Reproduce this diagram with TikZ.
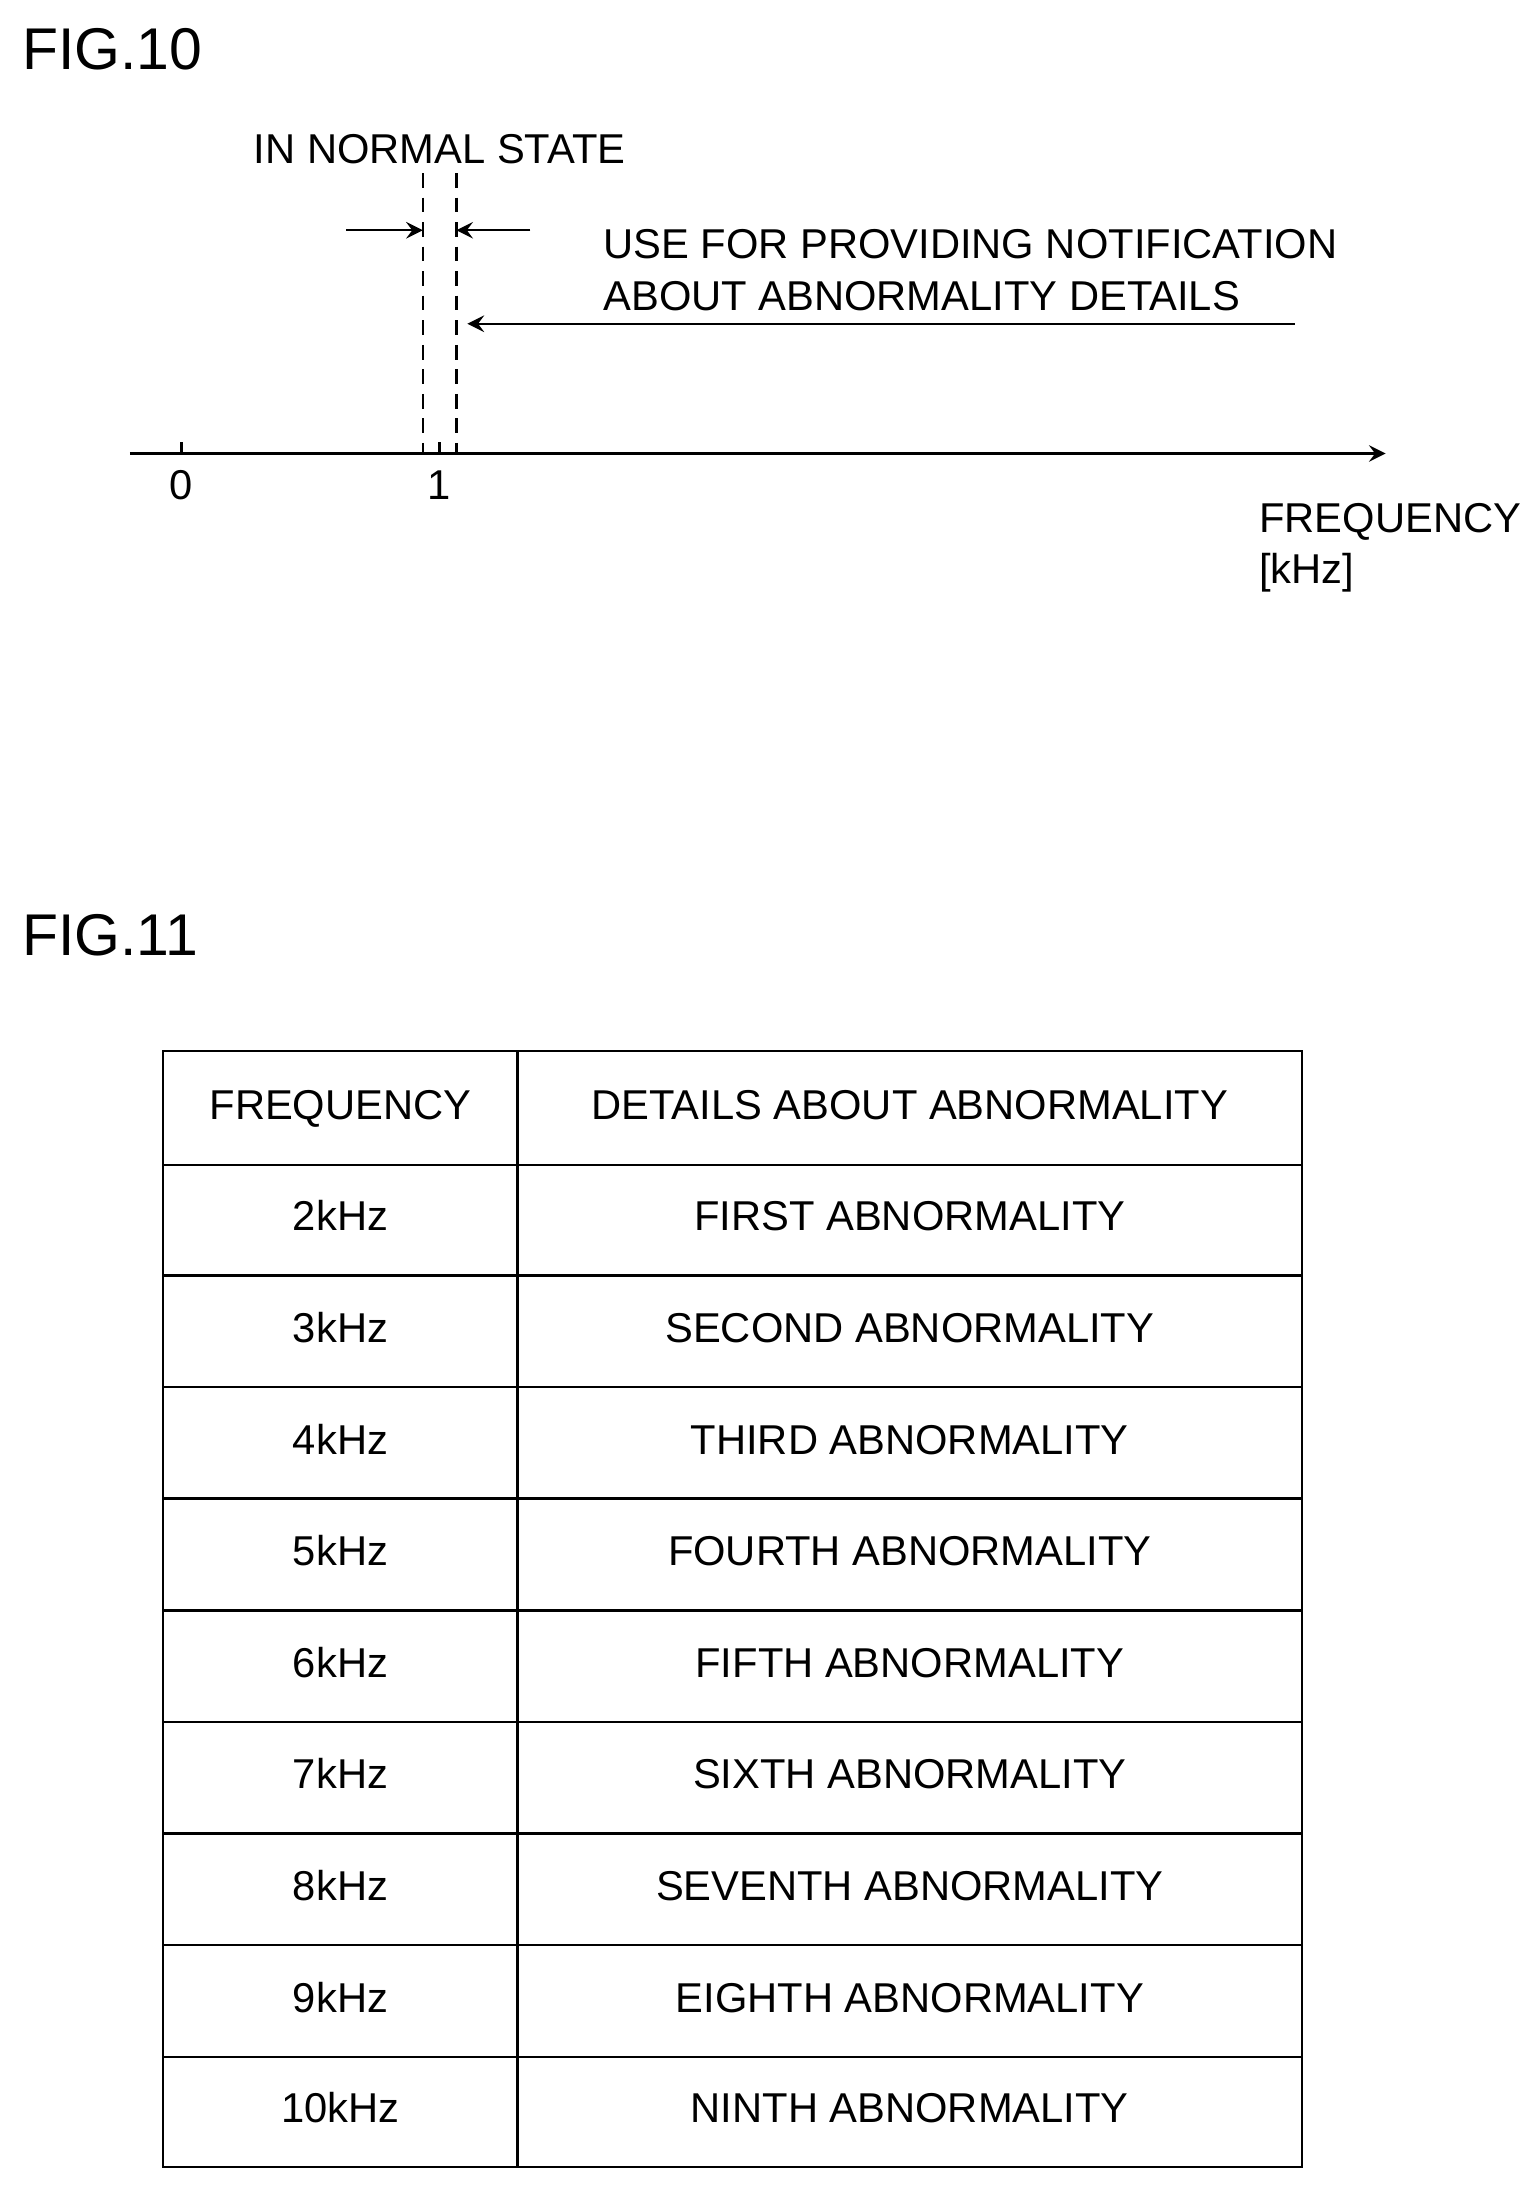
\documentclass[tikz,border=0pt]{standalone}
\usepackage{fontspec}
\setmainfont{Liberation Sans}
\usetikzlibrary{positioning}

\begin{document}
\begin{tikzpicture}[
  x=0.01cm, y=-0.01cm,
  every path/.style={line width=0.5pt},
  lbl/.style={font=\fontsize{8.5}{10.5}\selectfont, inner sep=1pt},
  cell/.style={lbl, text height=2.2mm, text depth=0.6mm},
  fig/.style={font=\fontsize{12}{14}\selectfont, anchor=west, inner sep=0},
  guide/.style={densely dashed},
  ar/.style={->,>=stealth}
  ]
  \useasboundingbox (0,0) rectangle (1100,1568);
  % FIG.10
  \node[fig] (f10) at (15,35) {FIG.10};
  \node[lbl] (normal) at (315,107) {IN NORMAL STATE};
  \coordinate (la) at (303,124);  \coordinate (lb) at (303,325);
  \coordinate (ra) at (327,124);  \coordinate (rb) at (327,325);
  \draw[guide] (la) -- (lb);
  \draw[guide] (ra) -- (rb);
  \coordinate (lin) at (248,165); \coordinate (lt) at (303,165);
  \coordinate (rin) at (380,165); \coordinate (rt) at (327,165);
  \draw[ar] (lin) -- (lt);
  \draw[ar] (rin) -- (rt);
  \node[lbl, align=left, anchor=north west] (use) at (428,160) {USE FOR PROVIDING NOTIFICATION\\ABOUT ABNORMALITY DETAILS};
  \coordinate (ustart) at (928,232); \coordinate (uend) at (335,232);
  \draw[ar] (ustart) -- (uend);
  \coordinate (ax0) at (93,325); \coordinate (ax1) at (993,325);
  \draw[ar] (ax0) -- (ax1);
  \draw (130,325) -- (130,317);
  \draw (315,325) -- (315,317);
  \node[lbl] (zero) at (130,348) {0};
  \node[lbl] (one) at (315,348) {1};
  \node[lbl, align=left, anchor=north west] (freq) at (898,356) {FREQUENCY\\{[kHz]}};
  % FIG.11
  \node[fig] (f11) at (15,670) {FIG.11};
  \draw (117,753) rectangle (933,1553);
  \draw (371,753) -- (371,1553);
  \foreach \y in {835,914,994,1074,1154,1234,1314,1394,1474}
    \draw (117,\y) -- (933,\y);
  \node[cell] (hf) at (244,794) {FREQUENCY};
  \node[cell] (hd) at (652,794) {DETAILS ABOUT ABNORMALITY};
  \foreach \y/\f/\d [count=\i] in {
    874/2kHz/FIRST, 954/3kHz/SECOND, 1034/4kHz/THIRD, 1114/5kHz/FOURTH,
    1194/6kHz/FIFTH, 1274/7kHz/SIXTH, 1354/8kHz/SEVENTH, 1434/9kHz/EIGHTH,
    1513/10kHz/NINTH} {
    \node[cell] (f\i) at (244,\y) {\f};
    \node[cell] (d\i) at (652,\y) {\d\ ABNORMALITY};
  }
\end{tikzpicture}
\end{document}
